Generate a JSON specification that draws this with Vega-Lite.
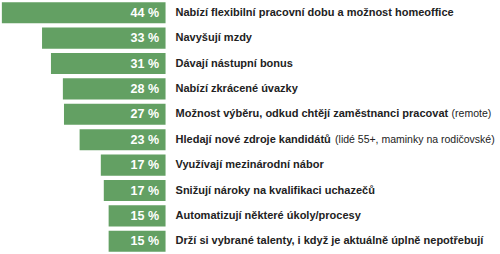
{
  "$schema": "https://vega.github.io/schema/vega-lite/v6.json",
  "width": 500,
  "height": 254,
  "padding": 0,
  "autosize": {"type": "none"},
  "background": "white",
  "config": {"view": {"stroke": null}},
  "data": {
    "values": [
      {"item": "Nabízí flexibilní pracovní dobu a možnost homeoffice", "note": "", "value": 44, "pct": "44 %"},
      {"item": "Navyšují mzdy", "note": "", "value": 33.2, "pct": "33 %"},
      {"item": "Dávají nástupní bonus", "note": "", "value": 30.8, "pct": "31 %"},
      {"item": "Nabízí zkrácené úvazky", "note": "", "value": 27.6, "pct": "28 %"},
      {"item": "Možnost výběru, odkud chtějí zaměstnanci pracovat", "note": "(remote)", "value": 27.3, "pct": "27 %"},
      {"item": "Hledají nové zdroje kandidátů", "note": "(lidé 55+, maminky na rodičovské)", "value": 23.1, "pct": "23 %"},
      {"item": "Využívají mezinárodní nábor", "note": "", "value": 17.4, "pct": "17 %"},
      {"item": "Snižují nároky na kvalifikaci uchazečů", "note": "", "value": 16.6, "pct": "17 %"},
      {"item": "Automatizují některé úkoly/procesy", "note": "", "value": 15.3, "pct": "15 %"},
      {"item": "Drží si vybrané talenty, i když je aktuálně úplně nepotřebují", "note": "", "value": 15.3, "pct": "15 %"}
    ]
  },
  "encoding": {
    "y": {
      "field": "item",
      "type": "nominal",
      "sort": null,
      "axis": null,
      "scale": {"paddingInner": 0.17, "paddingOuter": 0.085}
    }
  },
  "layer": [
    {
      "mark": {"type": "bar", "color": "#63a063"},
      "encoding": {
        "x": {"field": "value", "type": "quantitative", "axis": null, "scale": {"domain": [44.5, -89.9], "nice": false, "zero": false}},
        "x2": {"datum": 0}
      }
    },
    {
      "mark": {"type": "text", "align": "right", "baseline": "middle", "dx": -6.5, "font": "Liberation Sans", "fontWeight": "bold", "fontSize": 12.5, "color": "white"},
      "encoding": {
        "x": {"datum": 0, "type": "quantitative"},
        "text": {"field": "pct"}
      }
    },
    {
      "mark": {"type": "text", "align": "left", "baseline": "middle", "dx": 10, "font": "Liberation Sans", "fontWeight": "bold", "fontSize": 11, "color": "#222222"},
      "encoding": {
        "x": {"datum": 0, "type": "quantitative"},
        "text": {"field": "item"}
      }
    },
    {
      "transform": [{"filter": "datum.note == '(remote)'"}],
      "mark": {"type": "text", "align": "left", "baseline": "middle", "dx": 286, "font": "Liberation Sans", "fontSize": 10.5, "color": "#222222"},
      "encoding": {
        "x": {"datum": 0, "type": "quantitative"},
        "text": {"field": "note"}
      }
    },
    {
      "transform": [{"filter": "indexof(datum.note, 'lidé') >= 0"}],
      "mark": {"type": "text", "align": "left", "baseline": "middle", "dx": 169.5, "font": "Liberation Sans", "fontSize": 10.5, "color": "#222222"},
      "encoding": {
        "x": {"datum": 0, "type": "quantitative"},
        "text": {"field": "note"}
      }
    }
  ]
}
